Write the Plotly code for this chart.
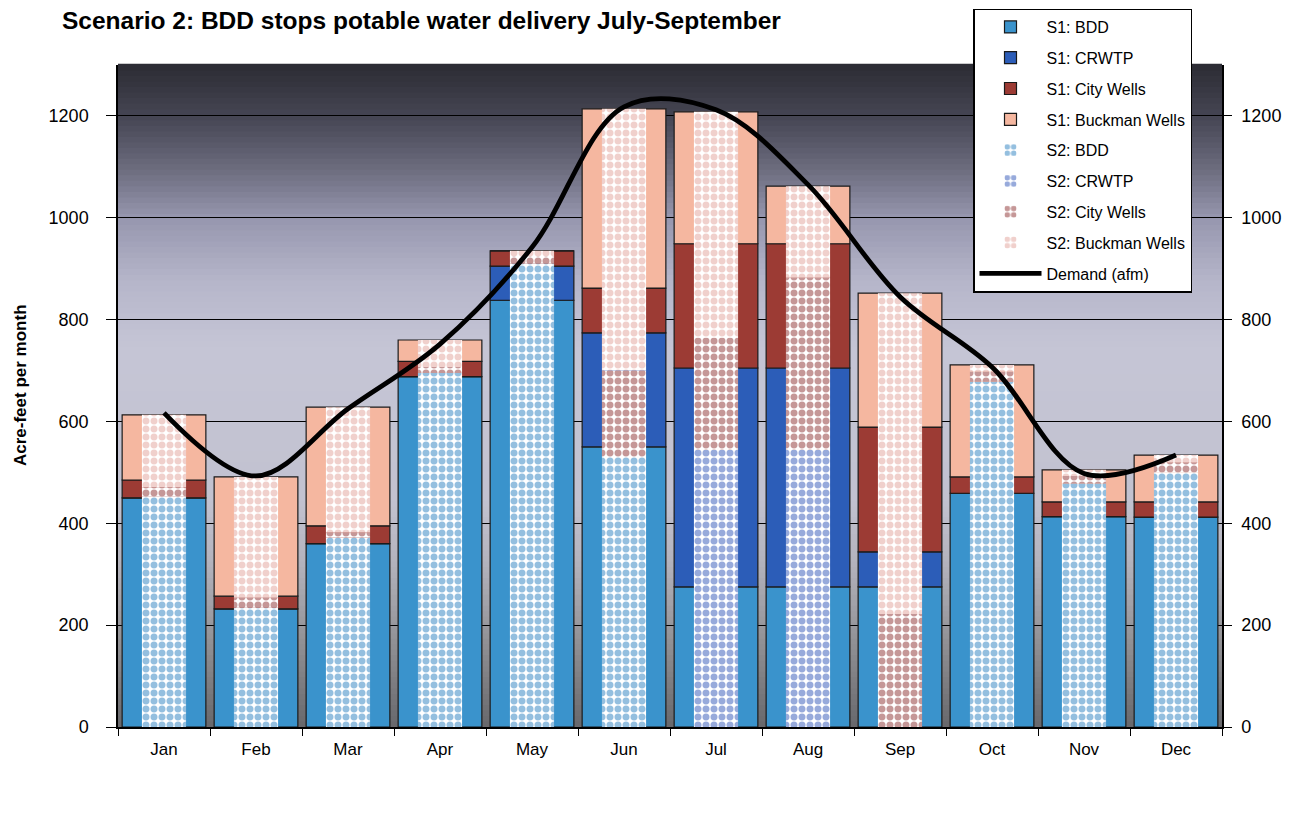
import numpy as np
import plotly.graph_objects as go

months = ["Jan", "Feb", "Mar", "Apr", "May", "Jun", "Jul", "Aug", "Sep", "Oct", "Nov", "Dec"]

# Scenario 1 (solid bars)
s1_bdd = [450, 232, 360, 688, 838, 550, 275, 275, 275, 459, 413, 412]
s1_crwtp = [0, 0, 0, 0, 67, 224, 430, 430, 69, 0, 0, 0]
s1_city = [35, 25, 35, 30, 30, 88, 244, 244, 245, 32, 29, 30]
s1_buckman = [128, 234, 233, 42, 0, 352, 259, 113, 263, 220, 63, 92]

# Scenario 2 (dotted bars)
s2_bdd = [452, 234, 372, 695, 910, 530, 0, 0, 0, 678, 478, 500]
s2_crwtp = [0, 0, 0, 0, 0, 0, 544, 544, 0, 0, 0, 0]
s2_city = [19, 20, 10, 12, 15, 170, 220, 338, 222, 20, 15, 20]
s2_buckman = [142, 237, 246, 53, 10, 514, 444, 180, 630, 13, 12, 14]

demand = [617, 493, 625, 752, 942, 1218, 1212, 1065, 845, 707, 498, 534]

FONT = "Arial, 'Liberation Sans', sans-serif"
col_bdd = "#3A93CC"
col_crwtp = "#2C5DB8"
col_city = "#9C3B34"
col_buck = "#F5B7A0"

W, H = 1293, 810
L, R, T, B = 110, 79, 57, 91
PW, PH = W - L - R, H - T - B

fig = go.Figure()

def add_stack(series, names, colors, width, patterned):
    base = np.zeros(len(months))
    for vals, name, color in zip(series, names, colors):
        vals = np.array(vals, dtype=float)
        if patterned:
            marker = dict(color="white",
                          pattern=dict(shape=".", fgcolor=color, bgcolor="white",
                                       size=8, solidity=0.6, fillmode="overlay"),
                          line=dict(width=0))
        else:
            marker = dict(color=color, line=dict(color="#1a1a1a", width=1.2))
        fig.add_trace(go.Bar(x=months, y=vals, base=base.copy(), name=name,
                             width=width, marker=marker, legendgroup=name,
                             hoverinfo="y+name"))
        base += vals

add_stack([s1_bdd, s1_crwtp, s1_city, s1_buckman],
          ["S1: BDD", "S1: CRWTP", "S1: City Wells", "S1: Buckman Wells"],
          [col_bdd, col_crwtp, col_city, col_buck], 0.91, False)
add_stack([s2_bdd, s2_crwtp, s2_city, s2_buckman],
          ["S2: BDD", "S2: CRWTP", "S2: City Wells", "S2: Buckman Wells"],
          ["#2A80C0", "#2F55B8", "#8C2F2F", "#E2A29A"], 0.48, True)

fig.add_trace(go.Scatter(x=months, y=demand, mode="lines", name="Demand (afm)",
                         line=dict(color="black", width=4.8, shape="spline", smoothing=1.0),
                         legendgroup="demand"))

# invisible trace to activate right axis
fig.add_trace(go.Scatter(x=months, y=demand, yaxis="y2", mode="lines",
                         line=dict(color="rgba(0,0,0,0)"), showlegend=False, hoverinfo="skip"))

# gradient background via thin rectangles
stops = [(0.0, (104, 104, 108)), (0.13, (146, 146, 150)), (0.25, (180, 180, 190)),
         (0.34, (194, 194, 208)), (0.57, (198, 198, 214)), (0.675, (182, 182, 202)),
         (0.77, (150, 150, 174)), (0.84, (110, 110, 128)), (0.917, (72, 72, 86)),
         (1.0, (44, 44, 52))]
shapes = []
N = 120
sp = np.array([s[0] for s in stops])
for i in range(N):
    y0 = i / N
    y1 = (i + 1) / N
    ym = (y0 + y1) / 2
    rgb = [int(np.interp(ym, sp, [s[1][k] for s in stops])) for k in range(3)]
    shapes.append(dict(type="rect", xref="paper", yref="paper", x0=0, x1=1, y0=y0, y1=y1 + 0.002,
                       fillcolor=f"rgb({rgb[0]},{rgb[1]},{rgb[2]})", line=dict(width=0),
                       layer="below"))

fig.update_layout(
    width=W, height=H,
    margin=dict(l=L, r=R, t=T, b=B, autoexpand=False),
    paper_bgcolor="white",
    plot_bgcolor="#c4c4d4",
    barmode="overlay",
    shapes=shapes,
    font=dict(family=FONT, color="black"),
    title=dict(text="<b>Scenario 2: BDD stops potable water delivery July-September</b>",
               x=54 / W, xanchor="left", y=1 - 4 / H, yanchor="top",
               font=dict(size=24.5, family=FONT, color="black")),
    xaxis=dict(type="category", tickson="boundaries", ticks="outside", ticklen=7,
               tickcolor="black", showline=True, linecolor="black", linewidth=1.5,
               showgrid=False, tickfont=dict(size=17, family=FONT), range=[-0.5, 11.5],
               automargin=False, ticklabelstandoff=6),
    yaxis=dict(range=[0, 1300], tickvals=[0, 200, 400, 600, 800, 1000, 1200],
               ticks="outside", ticklen=10, tickcolor="black", showline=True,
               linecolor="black", linewidth=1.5, showgrid=True, gridcolor="black",
               gridwidth=1, zeroline=False, tickfont=dict(size=18, family=FONT),
               automargin=False, ticklabelstandoff=14),
    yaxis2=dict(range=[0, 1300], tickvals=[0, 200, 400, 600, 800, 1000, 1200],
                overlaying="y", side="right", ticks="outside", ticklen=8, tickcolor="black",
                showline=True, linecolor="black", linewidth=1.5, showgrid=False,
                zeroline=False, tickfont=dict(size=18, family=FONT), automargin=False,
                ticklabelstandoff=6),
    legend=dict(x=(965 - L) / PW, xanchor="left",
                y=1 + (T - 0.5) / PH, yanchor="top",
                bgcolor="white", bordercolor="black", borderwidth=1.5,
                font=dict(size=16, family=FONT), tracegroupgap=7,
                itemwidth=62),
    annotations=[dict(text="<b>Acre-feet per month</b>", textangle=-90, xref="paper", yref="paper",
                      x=-(L - 12) / PW, y=(PH + T - 377) / PH, xanchor="center", yanchor="middle",
                      showarrow=False, font=dict(size=17, family=FONT, color="black"))],
    showlegend=True,
)

fig.write_html("out.html")
